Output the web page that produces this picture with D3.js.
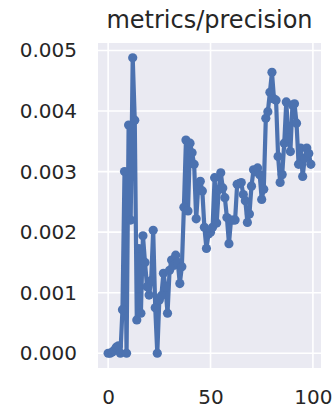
<!DOCTYPE html>
<html>
<head>
<meta charset="utf-8">
<script src="https://cdn.jsdelivr.net/npm/d3@7"></script>
<style>
  body { margin: 0; background: #fff; }
  text { font-family: "DejaVu Sans", sans-serif; fill: #262626; }
</style>
</head>
<body>
<div id="chart"></div>
<script>
var width = 336,
    height = 409;

var margin = { top: 43, right: 15, bottom: 41, left: 98 };

var title = "metrics/precision";

// epoch index 0..99
var epochs = d3.range(100);

// precision values (x 0.001)
var precision = [
  0.00, 0.00, 0.02, 0.05, 0.10, 0.12, 0.00, 0.72, 3.00, 0.00,
  3.77, 2.20, 4.88, 3.85, 0.55, 1.73, 0.66, 1.94, 1.50, 1.10,
  0.96, 1.20, 2.03, 0.75, 0.00, 0.88, 0.95, 1.32, 1.10, 0.66,
  1.37, 1.54, 1.45, 1.62, 1.50, 1.15, 1.43, 2.41, 3.52, 2.35,
  3.47, 3.31, 3.12, 2.22, 2.75, 2.84, 2.68, 2.08, 1.73, 1.97,
  2.00, 2.08, 2.90, 2.15, 2.70, 2.98, 2.73, 2.57, 2.24, 1.81,
  2.20, 2.20, 2.20, 2.79, 2.80, 2.82, 2.62, 2.52, 2.16, 2.30,
  2.76, 3.03, 3.00, 3.06, 2.95, 2.54, 2.71, 3.88, 3.99, 4.31,
  4.64, 4.20, 4.18, 3.25, 2.82, 2.95, 3.47, 4.15, 3.55, 3.33,
  4.10, 4.12, 3.80, 3.12, 3.39, 2.92, 3.22, 3.39, 3.30, 3.12
].map(function(d) { return d / 1000; });

var xTicks = [0, 50, 100];
var yTicks = [0, 0.001, 0.002, 0.003, 0.004, 0.005];

var data = epochs.map(function(e, i) { return { x: e, y: precision[i] }; });

var iw = width - margin.left - margin.right,
    ih = height - margin.top - margin.bottom;

var xExt = d3.extent(epochs), yExt = d3.extent(precision);
var xPad = (xExt[1] - xExt[0]) * 0.05, yPad = (yExt[1] - yExt[0]) * 0.05;

var x = d3.scaleLinear()
    .domain([xExt[0] - xPad, xExt[1] + xPad])
    .range([0, iw]);

var y = d3.scaleLinear()
    .domain([yExt[0] - yPad, yExt[1] + yPad])
    .range([ih, 0]);

var svg = d3.select("#chart").append("svg")
    .attr("width", width)
    .attr("height", height);

var g = svg.append("g")
    .attr("transform", "translate(" + margin.left + "," + margin.top + ")");

g.append("rect")
    .attr("width", iw)
    .attr("height", ih)
    .attr("fill", "#eaeaf2");

// grid
g.selectAll(".ygrid").data(yTicks).enter().append("line")
    .attr("x1", 0).attr("x2", iw)
    .attr("y1", function(d) { return y(d); })
    .attr("y2", function(d) { return y(d); })
    .attr("stroke", "#fff").attr("stroke-width", 1.6);

g.selectAll(".xgrid").data(xTicks).enter().append("line")
    .attr("y1", 0).attr("y2", ih)
    .attr("x1", function(d) { return x(d); })
    .attr("x2", function(d) { return x(d); })
    .attr("stroke", "#fff").attr("stroke-width", 1.6);

// axes (labels only, seaborn darkgrid style)
var yAxis = g.append("g")
    .call(d3.axisLeft(y).tickValues(yTicks).tickFormat(d3.format(".3f")).tickSize(0).tickPadding(21));
var xAxis = g.append("g")
    .attr("transform", "translate(0," + ih + ")")
    .call(d3.axisBottom(x).tickValues(xTicks).tickSize(0).tickPadding(22));

[xAxis, yAxis].forEach(function(a) {
  a.select(".domain").remove();
  a.selectAll("text")
    .attr("fill", "#262626")
    .style("font-family", "DejaVu Sans")
    .style("font-size", "20px");
});

var line = d3.line()
    .x(function(d) { return x(d.x); })
    .y(function(d) { return y(d.y); });

g.append("path")
    .datum(data)
    .attr("fill", "none")
    .attr("stroke", "#4c72b0")
    .attr("stroke-width", 4.2)
    .attr("stroke-linejoin", "round")
    .attr("d", line);

g.selectAll(".dot").data(data).enter().append("circle")
    .attr("cx", function(d) { return x(d.x); })
    .attr("cy", function(d) { return y(d.y); })
    .attr("r", 4.6)
    .attr("fill", "#4c72b0");

svg.append("text")
    .attr("x", margin.left + iw / 2)
    .attr("y", 28)
    .attr("text-anchor", "middle")
    .style("font-size", "24px")
    .text(title);
</script>
</body>
</html>
